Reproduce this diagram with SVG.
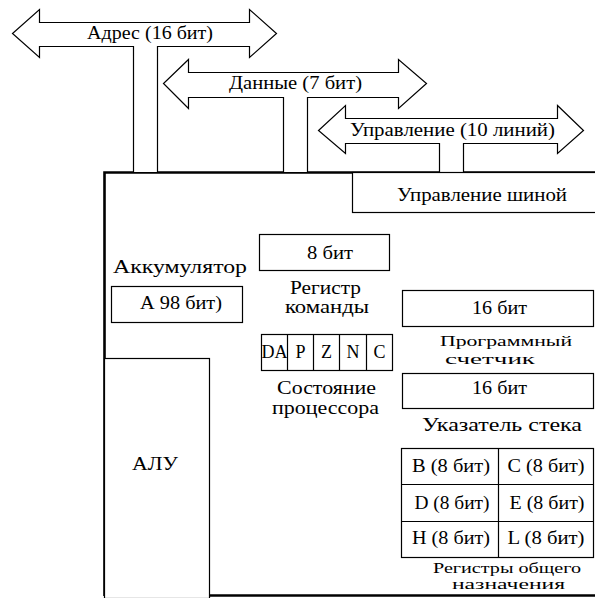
<svg xmlns="http://www.w3.org/2000/svg" width="595" height="598" viewBox="0 0 595 598">
<style>
.t{font-family:"Liberation Serif","DejaVu Serif",serif;font-size:18px;fill:#000;text-anchor:middle}
.s{font-size:15px}
.xs{font-size:14px}
.b{fill:#fff;stroke:#000;stroke-width:1.2}
.bus{fill:#fff;stroke:#000;stroke-width:1.2;stroke-linejoin:miter}
.frame{fill:none;stroke:#000;stroke-width:2.6}
</style>
<rect width="595" height="598" fill="#fff"/>
<g id="frame">
<path class="frame" d="M104.5,596 V172.5 H596"/>
<path class="frame" d="M104.5,595.5 H596"/>
</g>
<g id="connectors">
<g id="bus-address">
<path class="bus" d="M133.5,172 V46.5 H39.5 V57.5 L12.5,33.5 L39.5,9.5 V22.5 H249.5 V9.5 L276.5,33.5 L249.5,57.5 V46.5 H157.5 V172"/>
<text class="t" x="150" y="39" textLength="126" lengthAdjust="spacingAndGlyphs">Адрес (16 бит)</text>
</g>
<g id="bus-data">
<path class="bus" d="M283.5,172 V97.5 H188.5 V108.5 L163.5,83.5 L188.5,59.5 V72.5 H398.5 V59.5 L426.5,83.5 L398.5,108.5 V97.5 H307.5 V172"/>
<text class="t" x="295.5" y="89" textLength="133" lengthAdjust="spacingAndGlyphs">Данные (7 бит)</text>
</g>
<g id="bus-control">
<path class="bus" d="M439.5,172 V143.5 H345.5 V153.5 L318.5,130.5 L345.5,105.5 V118.5 H557.5 V105.5 L583.5,130.5 L557.5,153.5 V143.5 H463.5 V172"/>
<text class="t" x="452.5" y="136" textLength="205" lengthAdjust="spacingAndGlyphs">Управление (10 линий)</text>
</g>
</g>
<g id="bus-control-unit">
<rect class="b" x="352.5" y="172.5" width="250" height="40"/>
<text class="t" x="482" y="201" textLength="170" lengthAdjust="spacingAndGlyphs">Управление шиной</text>
</g>
<g id="instruction-register">
<rect class="b" x="259.5" y="234.5" width="130" height="36"/>
<text class="t" x="330" y="259" textLength="46" lengthAdjust="spacingAndGlyphs">8 бит</text>
<text class="t" x="325.5" y="294" textLength="71" lengthAdjust="spacingAndGlyphs">Регистр</text>
<text class="t" x="327" y="313" textLength="84" lengthAdjust="spacingAndGlyphs">команды</text>
</g>
<g id="accumulator">
<text class="t" x="180" y="273" textLength="134" lengthAdjust="spacingAndGlyphs">Аккумулятор</text>
<rect class="b" x="111.5" y="286.5" width="131" height="36"/>
<text class="t" x="181" y="309" textLength="82" lengthAdjust="spacingAndGlyphs">А 98 бит)</text>
</g>
<g id="flags">
<rect class="b" x="261.5" y="334.5" width="131" height="36"/>
<path class="b" d="M287.5,334.5 V370.5 M313.5,334.5 V370.5 M339.5,334.5 V370.5 M366.5,334.5 V370.5"/>
<text class="t" x="274.5" y="358" textLength="26" lengthAdjust="spacingAndGlyphs">DA</text>
<text class="t" x="300.5" y="358">P</text>
<text class="t" x="326.5" y="358">Z</text>
<text class="t" x="353" y="358">N</text>
<text class="t" x="379.5" y="358">C</text>
<text class="t" x="326.5" y="394" textLength="99" lengthAdjust="spacingAndGlyphs">Состояние</text>
<text class="t" x="325.5" y="414" textLength="107" lengthAdjust="spacingAndGlyphs">процессора</text>
</g>
<g id="program-counter">
<rect class="b" x="402.5" y="290.5" width="191" height="36"/>
<text class="t" x="499.5" y="314" textLength="55" lengthAdjust="spacingAndGlyphs">16 бит</text>
<text class="t s" x="506" y="346" textLength="132" lengthAdjust="spacingAndGlyphs">Программный</text>
<text class="t s" x="490" y="364" textLength="90" lengthAdjust="spacingAndGlyphs">счетчик</text>
</g>
<g id="stack-pointer">
<rect class="b" x="402.5" y="373.5" width="191" height="35"/>
<text class="t" x="499.5" y="394" textLength="55" lengthAdjust="spacingAndGlyphs">16 бит</text>
<text class="t" x="502" y="431" textLength="160" lengthAdjust="spacingAndGlyphs">Указатель стека</text>
</g>
<g id="general-registers">
<rect class="b" x="401.5" y="448.5" width="192" height="109"/>
<path class="b" d="M498.5,448.5 V557.5 M401.5,484.5 H593.5 M401.5,521.5 H593.5"/>
<text class="t" x="451" y="472" textLength="78" lengthAdjust="spacingAndGlyphs">B  (8 бит)</text>
<text class="t" x="546" y="472" textLength="77" lengthAdjust="spacingAndGlyphs">C (8 бит)</text>
<text class="t" x="452" y="509" textLength="75" lengthAdjust="spacingAndGlyphs">D (8 бит)</text>
<text class="t" x="547" y="509" textLength="75" lengthAdjust="spacingAndGlyphs">E (8 бит)</text>
<text class="t" x="451" y="544" textLength="78" lengthAdjust="spacingAndGlyphs">H (8 бит)</text>
<text class="t" x="546" y="544" textLength="77" lengthAdjust="spacingAndGlyphs">L (8 бит)</text>
<text class="t xs" x="507" y="573" textLength="148" lengthAdjust="spacingAndGlyphs">Регистры общего</text>
<text class="t xs" x="508.5" y="589" textLength="113" lengthAdjust="spacingAndGlyphs">назначения</text>
</g>
<g id="alu">
<rect class="b" x="104.5" y="358.5" width="105" height="240"/>
<text class="t" x="155" y="470" textLength="46" lengthAdjust="spacingAndGlyphs">АЛУ</text>
</g>
</svg>
